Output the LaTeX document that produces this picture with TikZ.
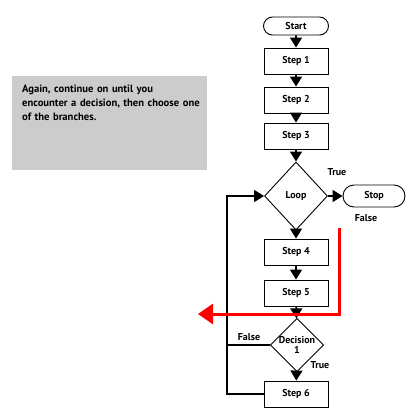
\documentclass[tikz,border=0pt]{standalone}
\usepackage{fontspec}
\setmainfont{PT Sans}
\usetikzlibrary{arrows.meta,shapes.geometric,shapes.misc}
\begin{document}
\begin{tikzpicture}[x=1pt,y=-1pt,
  every node/.style={font=\fontsize{10}{11}\selectfont\bfseries},
  stepbox/.style={draw,line width=0.9pt,minimum width=64pt,minimum height=26pt,inner sep=0pt},
  term/.style={draw,line width=0.9pt,rounded rectangle,inner sep=0pt},
  dec/.style={draw,line width=0.9pt,diamond,inner sep=0pt},
  flow/.style={line width=1.6pt,-{Triangle[width=12pt,length=10pt]}},
  plain/.style={line width=1.6pt},
  lbl/.style={inner sep=1pt}]
\useasboundingbox (0,0) rectangle (420,420);
\node[fill=black!20,minimum width=195pt,minimum height=94pt,inner sep=0pt] (note) at (109.5,123) {};
\node[anchor=north west,align=left,inner sep=0pt,text width=185pt,font=\fontsize{10.6}{14}\selectfont\bfseries] (notetext) at (22,85) {Again, continue on until you\\encounter a decision, then choose one\\of the branches.};
\node[term,minimum width=65pt,minimum height=18pt] (start) at (296,26) {Start};
\node[stepbox] (s1) at (296,61) {Step 1};
\node[stepbox] (s2) at (296,100) {Step 2};
\node[stepbox] (s3) at (296,136) {Step 3};
\node[dec,minimum width=63pt,minimum height=68pt] (loop) at (296,196) {Loop};
\node[term,minimum width=62pt,minimum height=22pt] (stop) at (374,196) {Stop};
\node[stepbox] (s4) at (296,252) {Step 4};
\node[stepbox] (s5) at (296,293) {Step 5};
\node[dec,minimum width=50pt,minimum height=45pt,align=center,font=\fontsize{10}{10}\selectfont\bfseries] (d1) at (297,345) {Decision\\1};
\node[stepbox] (s6) at (296,394) {Step 6};
\node[lbl] (ltrue) at (337,172) {True};
\node[lbl] (lfalse) at (366,218) {False};
\node[lbl] (dfalse) at (249,337) {False};
\node[lbl] (dtrue) at (320,365) {True};
\coordinate (c1) at (227,196);
\coordinate (c2) at (227,345);
\coordinate (c3) at (227,394);
\coordinate (r1) at (339,228);
\coordinate (r2) at (339,314);
\coordinate (r3) at (198,314);
\draw[flow] (start) -- (s1);
\draw[flow] (s1) -- (s2);
\draw[flow] (s2) -- (s3);
\draw[flow] (s3) -- (loop);
\draw[flow] (loop) -- (stop);
\draw[flow] (loop) -- (s4);
\draw[flow] (s4) -- (s5);
\draw[flow] (s5) -- (d1);
\draw[flow] (d1) -- (s6);
\draw[plain] (d1.west) -- (c2);
\draw[flow] (s6.west) -- (c3) -- (c1) -- (loop.west);
\draw[red,line width=3pt,-{Triangle[width=20pt,length=15pt]}] (r1) -- (r2) -- (r3);
\end{tikzpicture}
\end{document}
